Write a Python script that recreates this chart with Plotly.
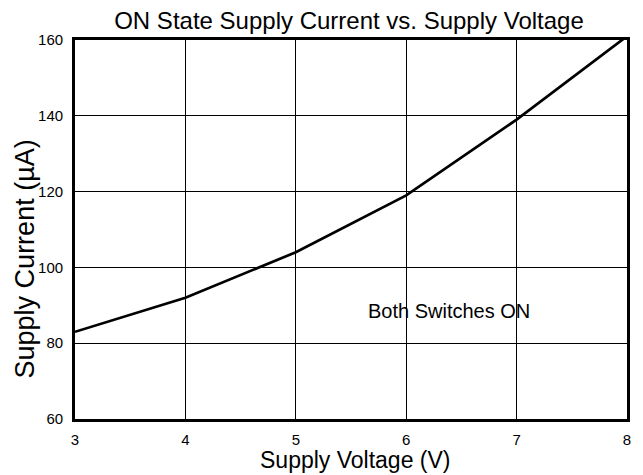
import plotly.graph_objects as go

voltage = [3, 4, 5, 6, 7, 8]
current = [83, 92, 104, 119, 139, 161]
x_ticks = [3, 4, 5, 6, 7, 8]
y_ticks = [60, 80, 100, 120, 140, 160]

FONT = "Liberation Sans, Arial, sans-serif"

fig = go.Figure()
fig.add_trace(go.Scatter(x=voltage, y=current, mode="lines",
                         line=dict(color="black", width=2.7), showlegend=False))

fig.add_annotation(x=6.39, y=88.5, text="Both Switches ON", showarrow=False,
                   font=dict(family=FONT, size=20, color="black"))

# axis titles as annotations for precise placement
fig.add_annotation(xref="paper", yref="paper", x=0.509, y=0, yanchor="middle",
                   yshift=-41, borderpad=0, text="Supply Voltage (V)", showarrow=False,
                   font=dict(family=FONT, size=23, color="black"))
fig.add_annotation(xref="paper", yref="paper", x=0, y=0.421, xanchor="center",
                   xshift=-50, textangle=-90, text="Supply Current (µA)", showarrow=False,
                   font=dict(family=FONT, size=27, color="black"))

fig.update_layout(
    width=635, height=467,
    margin=dict(l=67, r=14, t=32, b=56),
    paper_bgcolor="white", plot_bgcolor="white",
    title=dict(text="ON State Supply Current vs. Supply Voltage",
               xref="container", x=341/635, xanchor="center",
               yref="container", y=1 - 13/467, yanchor="middle",
               font=dict(family=FONT, size=24, color="black")),
    font=dict(family=FONT, color="black"),
)
fig.update_xaxes(range=[3, 8], tickvals=x_ticks, showgrid=True, gridcolor="black", gridwidth=1,
                 showline=True, linecolor="black", linewidth=2.7, mirror=True,
                 zeroline=False, ticks="", tickfont=dict(size=15), ticklabelstandoff=5)
fig.update_yaxes(range=[60, 160], tickvals=y_ticks, showgrid=True, gridcolor="black", gridwidth=1,
                 showline=True, linecolor="black", linewidth=2.7, mirror=True,
                 zeroline=False, ticks="", tickfont=dict(size=15), ticklabelstandoff=6)

fig.write_html("out.html")
